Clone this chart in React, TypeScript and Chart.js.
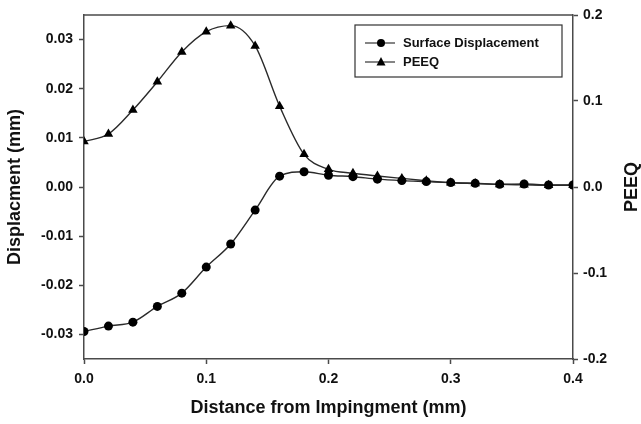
import React, { useEffect, useRef } from "react";
import { Chart, registerables } from "chart.js";

Chart.register(...registerables);

const distance = [0, 0.02, 0.04, 0.06, 0.08, 0.1, 0.12, 0.14, 0.16, 0.18, 0.2, 0.22, 0.24, 0.26, 0.28, 0.3, 0.32, 0.34, 0.36, 0.38, 0.4];
const surfaceDisplacement = [-0.0294, -0.0283, -0.0275, -0.0243, -0.0216, -0.0163, -0.0116, -0.0047, 0.0022, 0.0031, 0.0024, 0.0021, 0.0016, 0.0013, 0.0011, 0.0009, 0.00075, 0.00055, 0.0006, 0.0004, 0.0004];
const peeq = [0.053, 0.0616, 0.0895, 0.1224, 0.157, 0.1806, 0.1876, 0.164, 0.094, 0.038, 0.0206, 0.016, 0.0128, 0.01, 0.0073, 0.005, 0.004, 0.003, 0.0025, 0.002, 0.002];
const xTicks = [0, 0.1, 0.2, 0.3, 0.4];
const leftTicks = [-0.03, -0.02, -0.01, 0, 0.01, 0.02, 0.03];
const rightTicks = [-0.2, -0.1, 0, 0.1, 0.2];

const FONT = "'Liberation Sans', Arial, sans-serif";
const AXIS = "#4a4a4a";
const INK = "#111111";

function drawMarker(ctx: CanvasRenderingContext2D, style: string, x: number, y: number, r: number) {
  ctx.beginPath();
  if (style === "triangle") {
    ctx.moveTo(x, y - r * 1.1);
    ctx.lineTo(x + r, y + r * 0.75);
    ctx.lineTo(x - r, y + r * 0.75);
    ctx.closePath();
  } else {
    ctx.arc(x, y, r, 0, Math.PI * 2);
  }
  ctx.fill();
}

const framePlugin = {
  id: "frameAndLegend",
  afterDraw(chart: any) {
    const { ctx, chartArea } = chart;
    ctx.save();
    // frame top
    ctx.strokeStyle = AXIS;
    ctx.lineWidth = 1.5;
    ctx.beginPath();
    ctx.moveTo(chartArea.left, chartArea.top);
    ctx.lineTo(chartArea.right, chartArea.top);
    ctx.stroke();

    // right axis title
    ctx.fillStyle = INK;
    ctx.font = `bold 18px ${FONT}`;
    ctx.textAlign = "center";
    ctx.textBaseline = "alphabetic";
    ctx.translate(637, (chartArea.top + chartArea.bottom) / 2);
    ctx.rotate(-Math.PI / 2);
    ctx.fillText("PEEQ", 0, 0);
    ctx.restore();

    // legend
    ctx.save();
    const bx = chartArea.right - 218;
    const by = chartArea.top + 10;
    const bw = 207;
    const bh = 52;
    ctx.fillStyle = "#ffffff";
    ctx.fillRect(bx, by, bw, bh);
    ctx.strokeStyle = "#333333";
    ctx.lineWidth = 1.2;
    ctx.strokeRect(bx, by, bw, bh);
    ctx.font = `bold 13px ${FONT}`;
    ctx.textAlign = "left";
    ctx.textBaseline = "middle";
    chart.data.datasets.forEach((ds: any, i: number) => {
      const y = by + 18 + i * 19;
      ctx.strokeStyle = "#333333";
      ctx.lineWidth = 1.2;
      ctx.beginPath();
      ctx.moveTo(bx + 10, y);
      ctx.lineTo(bx + 40, y);
      ctx.stroke();
      ctx.fillStyle = "#000000";
      drawMarker(ctx, ds.pointStyle, bx + 26, y, ds.pointStyle === "triangle" ? 4.5 : 4);
      ctx.fillStyle = INK;
      ctx.fillText(ds.label, bx + 48, y + 0.5);
    });
    ctx.restore();
  },
};

export default function App() {
  const ref = useRef<HTMLCanvasElement | null>(null);

  useEffect(() => {
    document.body.style.margin = "0";
    const canvas = ref.current;
    if (!canvas) return;

    const fmt = (d: number) => (v: any) => Number(v).toFixed(d);

    const chart = new Chart(canvas, {
      type: "line",
      data: {
        datasets: [
          {
            label: "Surface Displacement",
            data: distance.map((x, i) => ({ x, y: surfaceDisplacement[i] })),
            yAxisID: "y",
            borderColor: "#2a2a2a",
            borderWidth: 1.4,
            backgroundColor: "#000000",
            pointBackgroundColor: "#000000",
            pointBorderColor: "#000000",
            pointStyle: "circle",
            pointRadius: 4.5,
            pointBorderWidth: 0,
            cubicInterpolationMode: "monotone",
            fill: false,
          },
          {
            label: "PEEQ",
            data: distance.map((x, i) => ({ x, y: peeq[i] })),
            yAxisID: "y1",
            borderColor: "#2a2a2a",
            borderWidth: 1.4,
            backgroundColor: "#000000",
            pointBackgroundColor: "#000000",
            pointBorderColor: "#000000",
            pointStyle: "triangle",
            pointRadius: 5.5,
            pointBorderWidth: 0,
            cubicInterpolationMode: "monotone",
            fill: false,
          },
        ],
      },
      options: {
        responsive: false,
        animation: false,
        devicePixelRatio: 1,
        layout: { padding: { top: 15, left: 0, right: 0, bottom: 0 } },
        plugins: {
          legend: { display: false },
          tooltip: { enabled: false },
        },
        scales: {
          x: {
            type: "linear",
            min: 0,
            max: 0.4,
            afterFit: (s: any) => { s.height = 65; },
            afterBuildTicks: (s: any) => { s.ticks = xTicks.map((v) => ({ value: v })); },
            border: { display: true, color: AXIS, width: 1.5 },
            grid: { drawOnChartArea: false, drawTicks: true, tickLength: 5, color: AXIS, tickWidth: 1.5 },
            ticks: { color: INK, font: { family: FONT, size: 14, weight: "bold" }, padding: 7, callback: fmt(1), maxRotation: 0 },
            title: { display: true, text: "Distance from Impingment (mm)", color: INK, font: { family: FONT, size: 18, weight: "bold" }, padding: { top: 0, bottom: 5 } },
          },
          y: {
            type: "linear",
            position: "left",
            min: -0.035,
            max: 0.035,
            afterFit: (s: any) => { s.width = 84; },
            afterBuildTicks: (s: any) => { s.ticks = leftTicks.map((v) => ({ value: v })); },
            border: { display: true, color: AXIS, width: 1.5 },
            grid: { drawOnChartArea: false, drawTicks: true, tickLength: 5, color: AXIS, tickWidth: 1.5 },
            ticks: { color: INK, font: { family: FONT, size: 14, weight: "bold" }, padding: 6, callback: fmt(2) },
            title: { display: true, text: "Displacment (mm)", color: INK, font: { family: FONT, size: 18, weight: "bold" }, padding: { top: 4, bottom: 0 } },
          },
          y1: {
            type: "linear",
            position: "right",
            min: -0.2,
            max: 0.2,
            afterFit: (s: any) => { s.width = 68; },
            afterBuildTicks: (s: any) => { s.ticks = rightTicks.map((v) => ({ value: v })); },
            border: { display: true, color: AXIS, width: 1.5 },
            grid: { drawOnChartArea: false, drawTicks: true, tickLength: 5, color: AXIS, tickWidth: 1.5 },
            ticks: { color: INK, font: { family: FONT, size: 14, weight: "bold" }, padding: 5, callback: fmt(1) },
          },
        },
      },
      plugins: [framePlugin],
    } as any);

    return () => chart.destroy();
  }, []);

  return (
    <div style={{ width: 641, height: 424 }}>
      <canvas ref={ref} width={641} height={424} />
    </div>
  );
}
